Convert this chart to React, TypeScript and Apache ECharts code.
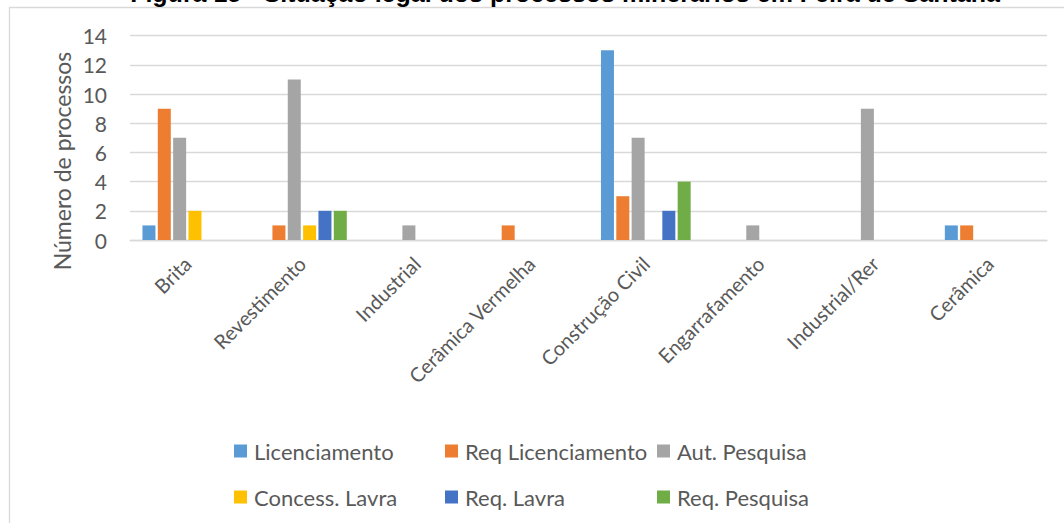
import React, { useEffect, useRef } from "react";
import * as echarts from "echarts";

// Mineral process categories (x axis)
const categories = [
  "Brita",
  "Revestimento",
  "Industrial",
  "Cerâmica Vermelha",
  "Construção Civil",
  "Engarrafamento",
  "Industrial/Rer",
  "Cerâmica",
];

// Legal status series, one value per category
const licenciamento = [1, 0, 0, 0, 13, 0, 0, 1];
const reqLicenciamento = [9, 1, 0, 1, 3, 0, 0, 1];
const autPesquisa = [7, 11, 1, 0, 7, 1, 9, 0];
const concessLavra = [2, 1, 0, 0, 0, 0, 0, 0];
const reqLavra = [0, 2, 0, 0, 2, 0, 0, 0];
const reqPesquisa = [0, 2, 0, 0, 4, 0, 0, 0];

const seriesNames = [
  "Licenciamento",
  "Req Licenciamento",
  "Aut. Pesquisa",
  "Concess. Lavra",
  "Req. Lavra",
  "Req. Pesquisa",
];
const seriesValues = [
  licenciamento,
  reqLicenciamento,
  autPesquisa,
  concessLavra,
  reqLavra,
  reqPesquisa,
];
const seriesColors = ["#5B9BD5", "#ED7D31", "#A5A5A5", "#FFC000", "#4472C4", "#70AD47"];

const yTicks = { min: 0, max: 14, interval: 2 };

const title = "Figura 15 - Situação legal dos processos minerários em Feira de Santana";
const yAxisTitle = "Número de processos";

const FONT = "Lato";
const TEXT_GREY = "#595959";
const GRID_GREY = "#d9d9d9";

export default function App() {
  const ref = useRef<HTMLDivElement>(null);

  useEffect(() => {
    if (!ref.current) return;
    const chart = echarts.init(ref.current, undefined, { renderer: "svg" });

    // Legend laid out as three columns of two rows each
    const legendColumn = (names: string[], left: number) => ({
      orient: "vertical" as const,
      left,
      top: 439,
      padding: 0,
      itemWidth: 13,
      itemHeight: 13,
      itemGap: 22,
      icon: "rect",
      data: names,
      textStyle: {
        fontFamily: FONT,
        fontSize: 22,
        color: TEXT_GREY,
        lineHeight: 24,
        padding: [0, 0, 0, 2],
      },
    });

    chart.setOption({
      animation: false,
      backgroundColor: "#ffffff",
      grid: { left: 130, right: 17, top: 35.7, bottom: 283 },
      legend: [
        legendColumn([seriesNames[0], seriesNames[3]], 234),
        legendColumn([seriesNames[1], seriesNames[4]], 445),
        legendColumn([seriesNames[2], seriesNames[5]], 657),
      ],
      xAxis: {
        type: "category",
        data: categories,
        axisTick: { show: false },
        axisLine: { lineStyle: { color: GRID_GREY, width: 1.3 } },
        axisLabel: {
          rotate: 45,
          margin: 20,
          interval: 0,
          fontFamily: FONT,
          fontSize: 20,
          color: TEXT_GREY,
        },
      },
      yAxis: {
        type: "value",
        min: yTicks.min,
        max: yTicks.max,
        interval: yTicks.interval,
        axisLine: { show: false },
        axisTick: { show: false },
        splitLine: { lineStyle: { color: GRID_GREY, width: 1.3 } },
        axisLabel: {
          margin: 23,
          fontFamily: FONT,
          fontSize: 21,
          color: TEXT_GREY,
        },
      },
      series: seriesNames.map((name, i) => ({
        name,
        type: "bar",
        data: seriesValues[i],
        barWidth: 13,
        barGap: "18%",
        itemStyle: { color: seriesColors[i] },
      })),
      graphic: [
        {
          type: "rect",
          z: -10,
          shape: { x: 9.5, y: 7.5, width: 1200, height: 700 },
          style: { fill: "none", stroke: GRID_GREY, lineWidth: 1.3 },
          silent: true,
        },
        {
          type: "text",
          x: 565,
          y: -7,
          style: {
            text: title,
            fontFamily: "Liberation Sans",
            fontWeight: "bold",
            fontSize: 25,
            fill: "#000000",
            align: "center",
            verticalAlign: "middle",
          },
        },
        {
          type: "text",
          x: 62,
          y: 161,
          rotation: Math.PI / 2,
          style: {
            text: yAxisTitle,
            fontFamily: FONT,
            fontSize: 23,
            fill: TEXT_GREY,
            align: "center",
            verticalAlign: "middle",
          },
        },
      ],
    });

    return () => chart.dispose();
  }, []);

  return (
    <div
      ref={ref}
      style={{ position: "fixed", left: 0, top: 0, width: 1064, height: 523 }}
    />
  );
}
